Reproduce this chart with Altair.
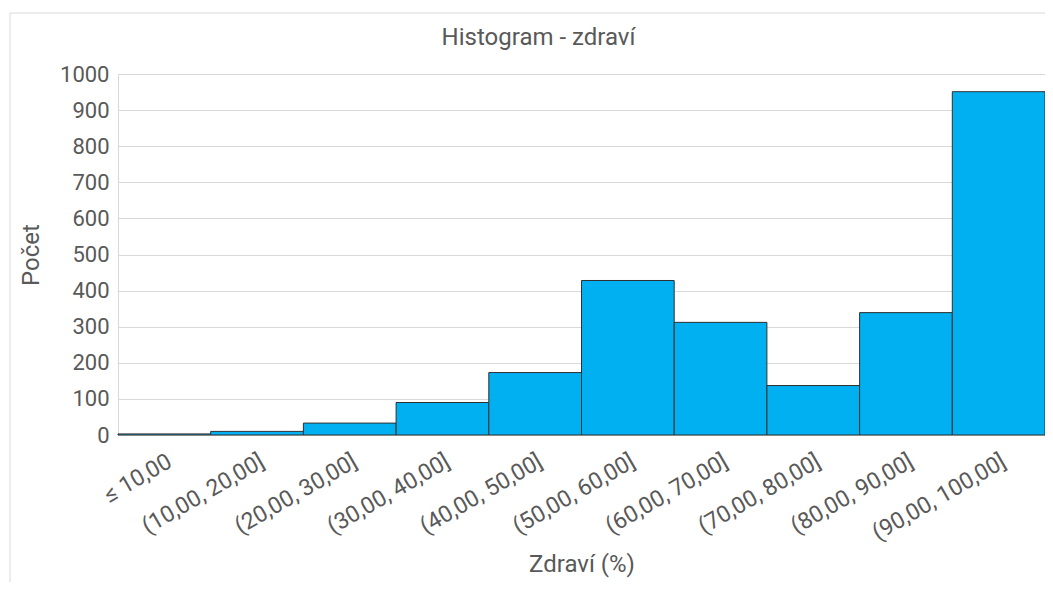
import altair as alt
import pandas as pd

# Data
bins = ["≤ 10,00", "(10,00, 20,00]", "(20,00, 30,00]", "(30,00, 40,00]",
        "(40,00, 50,00]", "(50,00, 60,00]", "(60,00, 70,00]", "(70,00, 80,00]",
        "(80,00, 90,00]", "(90,00, 100,00]"]
counts = [3, 10, 33, 90, 173, 428, 312, 137, 339, 951]
y_ticks = [0, 100, 200, 300, 400, 500, 600, 700, 800, 900, 1000]

df = pd.DataFrame({"bin": bins, "count": counts})

FONT = "Roboto"
TEXT = "#595959"
GRID = "#d9d9d9"
W, H = 927, 361

bars = alt.Chart(df).mark_bar(
    color="#00B0F0", stroke="#303030", strokeWidth=1
).encode(
    x=alt.X("bin:N", sort=bins, title="Zdraví (%)",
            scale=alt.Scale(paddingInner=0, paddingOuter=0),
            axis=alt.Axis(labelAngle=330, labelAlign="right", labelBaseline="top",
                          labelPadding=15, ticks=False, domain=True, domainColor=GRID,
                          labelFontSize=23, labelColor=TEXT, labelFont=FONT,
                          titleFontSize=24, titleColor=TEXT, titleFont=FONT,
                          titleFontWeight="normal", titlePadding=8, grid=False)),
    y=alt.Y("count:Q", title="Počet",
            scale=alt.Scale(domain=[0, 1000], nice=False),
            axis=alt.Axis(values=y_ticks, format="d", ticks=False, domain=True,
                          domainColor=GRID, gridColor=GRID, labelPadding=9,
                          labelFontSize=22, labelColor=TEXT, labelFont=FONT,
                          titleFontSize=24, titleColor=TEXT, titleFont=FONT,
                          titleFontWeight="normal", titlePadding=16)),
)

frame = alt.Chart(pd.DataFrame({"a": [0]})).mark_rect(
    fill=None, stroke=GRID, strokeWidth=1
).encode(
    x=alt.value(-108), x2=alt.value(W + 40),
    y=alt.value(-61), y2=alt.value(H + 200),
)

chart = alt.layer(frame, bars).properties(
    width=W, height=H,
    title=alt.TitleParams("Histogram - zdraví", fontSize=24, color=TEXT, font=FONT,
                          fontWeight="normal", anchor="middle", offset=-37, dx=-43),
    autosize=alt.AutoSizeParams(type="none"),
    padding={"left": 110, "top": 66, "right": 0, "bottom": 147},
).configure_view(stroke=None).configure(background="white")

chart.save("out.html", embed_options={"renderer": "svg", "actions": False})
